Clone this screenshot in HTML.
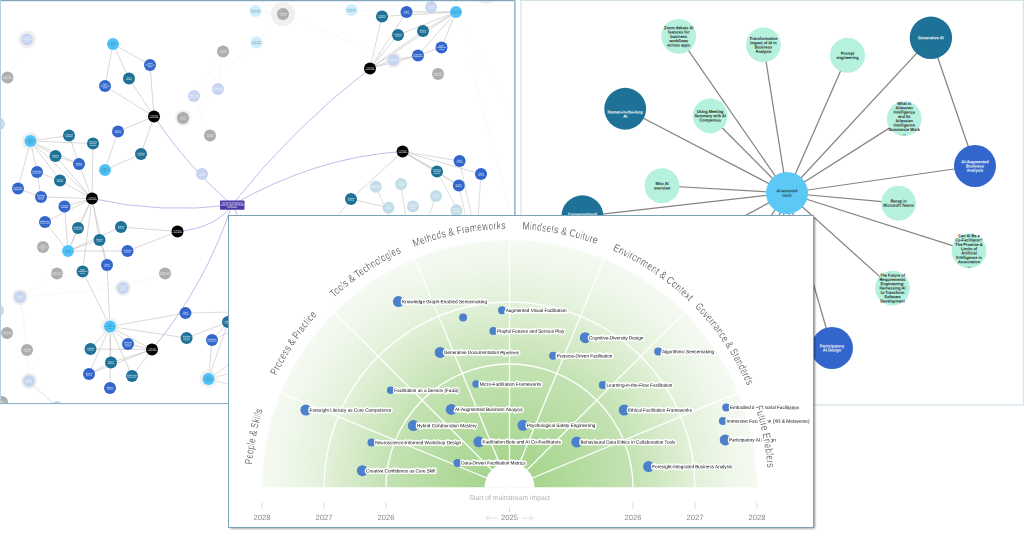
<!DOCTYPE html><html><head><meta charset="utf-8"><style>html,body{margin:0;padding:0;background:#fff;}body{width:1024px;height:533px;overflow:hidden;font-family:"Liberation Sans",sans-serif;}svg{display:block;position:absolute;left:0;top:0;}text{font-family:"Liberation Sans",sans-serif;text-rendering:geometricPrecision;}</style></head><body>
<svg width="1024" height="533" viewBox="0 0 1024 533">
<defs>
<clipPath id="cl"><rect x="0.5" y="0.5" width="514.4" height="402.8"/></clipPath>
<clipPath id="cr"><rect x="522" y="1" width="500.8" height="403"/></clipPath>
<clipPath id="cc"><rect x="229" y="216" width="584" height="311"/></clipPath>
<radialGradient id="rg" gradientUnits="userSpaceOnUse" cx="509.5" cy="487.5" r="247.5">
<stop offset="0" stop-color="#a6d58e"/><stop offset="0.12" stop-color="#a8d690"/><stop offset="0.5" stop-color="#c4e2b3"/><stop offset="0.75" stop-color="#e2f1d9"/><stop offset="0.9" stop-color="#eff7ea"/><stop offset="1" stop-color="#f5faf2"/>
</radialGradient>
<filter id="sh" x="-5%" y="-5%" width="112%" height="115%"><feGaussianBlur stdDeviation="0.9"/></filter>
</defs>
<rect width="1024" height="533" fill="#fff"/>
<g clip-path="url(#cl)">
<line x1="27" y1="39.5" x2="7.5" y2="77.5" stroke="#e8e8e8" stroke-width="0.6" stroke-dasharray="1.2 1.2"/>
<line x1="223" y1="51.5" x2="218" y2="89" stroke="#e8e8e8" stroke-width="0.6" stroke-dasharray="1.2 1.2"/>
<line x1="223" y1="51.5" x2="194" y2="96" stroke="#e8e8e8" stroke-width="0.6" stroke-dasharray="1.2 1.2"/>
<line x1="194" y1="96" x2="210" y2="135.5" stroke="#e8e8e8" stroke-width="0.6" stroke-dasharray="1.2 1.2"/>
<line x1="283" y1="14" x2="256.5" y2="42.5" stroke="#e8e8e8" stroke-width="0.6" stroke-dasharray="1.2 1.2"/>
<line x1="283" y1="14" x2="255.5" y2="11" stroke="#e8e8e8" stroke-width="0.6" stroke-dasharray="1.2 1.2"/>
<line x1="183" y1="118" x2="218" y2="89" stroke="#e8e8e8" stroke-width="0.6" stroke-dasharray="1.2 1.2"/>
<line x1="123" y1="288" x2="165" y2="273.5" stroke="#e8e8e8" stroke-width="0.6" stroke-dasharray="1.2 1.2"/>
<line x1="123" y1="288" x2="20" y2="297" stroke="#e8e8e8" stroke-width="0.6" stroke-dasharray="1.2 1.2"/>
<line x1="20" y1="297" x2="57" y2="273.5" stroke="#e8e8e8" stroke-width="0.6" stroke-dasharray="1.2 1.2"/>
<line x1="27" y1="350" x2="29" y2="381" stroke="#e8e8e8" stroke-width="0.6" stroke-dasharray="1.2 1.2"/>
<line x1="20" y1="297" x2="27" y2="350" stroke="#e8e8e8" stroke-width="0.6" stroke-dasharray="1.2 1.2"/>
<line x1="57" y1="273.5" x2="123" y2="288" stroke="#e8e8e8" stroke-width="0.6" stroke-dasharray="1.2 1.2"/>
<line x1="351.5" y1="10" x2="456" y2="12" stroke="#e8e8e8" stroke-width="0.6" stroke-dasharray="1.2 1.2"/>
<line x1="283" y1="14" x2="393.5" y2="60" stroke="#e8e8e8" stroke-width="0.6" stroke-dasharray="1.2 1.2"/>
<line x1="256.5" y1="42.5" x2="194" y2="96" stroke="#e8e8e8" stroke-width="0.6" stroke-dasharray="1.2 1.2"/>
<line x1="185.5" y1="313" x2="235" y2="312" stroke="#c9c9c9" stroke-width="0.6"/>
<line x1="208.5" y1="379" x2="235" y2="372" stroke="#c9c9c9" stroke-width="0.6"/>
<line x1="208.5" y1="379" x2="235" y2="386" stroke="#c9c9c9" stroke-width="0.6"/>
<line x1="208.5" y1="379" x2="235" y2="360" stroke="#c9c9c9" stroke-width="0.6"/>
<line x1="212" y1="340" x2="235" y2="330" stroke="#c9c9c9" stroke-width="0.6"/>
<line x1="437" y1="171.5" x2="462" y2="218" stroke="#c9c9c9" stroke-width="0.6"/>
<line x1="459.6" y1="161" x2="472" y2="218" stroke="#c9c9c9" stroke-width="0.6"/>
<line x1="481" y1="174" x2="478" y2="218" stroke="#c9c9c9" stroke-width="0.6"/>
<line x1="458.8" y1="185.6" x2="466" y2="218" stroke="#c9c9c9" stroke-width="0.6"/>
<line x1="351" y1="199" x2="336" y2="218" stroke="#c9c9c9" stroke-width="0.6"/>
<line x1="375.8" y1="186.7" x2="390" y2="218" stroke="#c9c9c9" stroke-width="0.6"/>
<line x1="401" y1="184" x2="406" y2="218" stroke="#c9c9c9" stroke-width="0.6"/>
<line x1="436" y1="196" x2="428" y2="218" stroke="#c9c9c9" stroke-width="0.6"/>
<line x1="402.6" y1="151.5" x2="438" y2="171" stroke="#c9c9c9" stroke-width="0.6"/>
<line x1="29" y1="381" x2="60" y2="410" stroke="#c9c9c9" stroke-width="0.6"/>
<line x1="20" y1="297" x2="40" y2="410" stroke="#ededed" stroke-width="0.6" stroke-dasharray="1.2 1.2"/>
<line x1="470" y1="60" x2="515" y2="230" stroke="#ededed" stroke-width="0.6" stroke-dasharray="1.2 1.2"/>
<line x1="456" y1="12" x2="515" y2="120" stroke="#ededed" stroke-width="0.6" stroke-dasharray="1.2 1.2"/>
<line x1="113" y1="44" x2="150" y2="65" stroke="#bdbdbd" stroke-width="0.6"/>
<line x1="113" y1="44" x2="129" y2="78.5" stroke="#bdbdbd" stroke-width="0.6"/>
<line x1="113" y1="44" x2="105" y2="86" stroke="#bdbdbd" stroke-width="0.6"/>
<line x1="150" y1="65" x2="154" y2="116.5" stroke="#bdbdbd" stroke-width="0.6"/>
<line x1="129" y1="78.5" x2="154" y2="116.5" stroke="#bdbdbd" stroke-width="0.6"/>
<line x1="105" y1="86" x2="154" y2="116.5" stroke="#bdbdbd" stroke-width="0.6"/>
<line x1="154" y1="116.5" x2="118" y2="131.5" stroke="#bdbdbd" stroke-width="0.6"/>
<line x1="154" y1="116.5" x2="141" y2="154" stroke="#bdbdbd" stroke-width="0.6"/>
<line x1="118" y1="131.5" x2="105" y2="170" stroke="#bdbdbd" stroke-width="0.6"/>
<line x1="141" y1="154" x2="105" y2="170" stroke="#bdbdbd" stroke-width="0.6"/>
<line x1="30.5" y1="141" x2="69" y2="135.5" stroke="#bdbdbd" stroke-width="0.6"/>
<line x1="30.5" y1="141" x2="93" y2="143.5" stroke="#bdbdbd" stroke-width="0.6"/>
<line x1="30.5" y1="141" x2="55.5" y2="156" stroke="#bdbdbd" stroke-width="0.6"/>
<line x1="30.5" y1="141" x2="79" y2="164" stroke="#bdbdbd" stroke-width="0.6"/>
<line x1="30.5" y1="141" x2="37" y2="172" stroke="#bdbdbd" stroke-width="0.6"/>
<line x1="30.5" y1="141" x2="60" y2="180.5" stroke="#bdbdbd" stroke-width="0.6"/>
<line x1="30.5" y1="141" x2="18" y2="188.5" stroke="#bdbdbd" stroke-width="0.6"/>
<line x1="30.5" y1="141" x2="92" y2="198.5" stroke="#bdbdbd" stroke-width="0.6"/>
<line x1="69" y1="135.5" x2="79" y2="164" stroke="#bdbdbd" stroke-width="0.6"/>
<line x1="93" y1="143.5" x2="92" y2="198.5" stroke="#bdbdbd" stroke-width="0.6"/>
<line x1="79" y1="164" x2="92" y2="198.5" stroke="#bdbdbd" stroke-width="0.6"/>
<line x1="55.5" y1="156" x2="92" y2="198.5" stroke="#bdbdbd" stroke-width="0.6"/>
<line x1="60" y1="180.5" x2="92" y2="198.5" stroke="#bdbdbd" stroke-width="0.6"/>
<line x1="41" y1="197" x2="92" y2="198.5" stroke="#bdbdbd" stroke-width="0.6"/>
<line x1="64.5" y1="206.5" x2="92" y2="198.5" stroke="#bdbdbd" stroke-width="0.6"/>
<line x1="45" y1="222" x2="92" y2="198.5" stroke="#bdbdbd" stroke-width="0.6"/>
<line x1="78" y1="228" x2="92" y2="198.5" stroke="#bdbdbd" stroke-width="0.6"/>
<line x1="99.5" y1="240" x2="92" y2="198.5" stroke="#bdbdbd" stroke-width="0.6"/>
<line x1="68" y1="251" x2="92" y2="198.5" stroke="#bdbdbd" stroke-width="0.6"/>
<line x1="18" y1="188.5" x2="41" y2="197" stroke="#bdbdbd" stroke-width="0.6"/>
<line x1="37" y1="172" x2="41" y2="197" stroke="#bdbdbd" stroke-width="0.6"/>
<line x1="37" y1="172" x2="60" y2="180.5" stroke="#bdbdbd" stroke-width="0.6"/>
<line x1="68" y1="251" x2="45" y2="222" stroke="#bdbdbd" stroke-width="0.6"/>
<line x1="68" y1="251" x2="78" y2="228" stroke="#bdbdbd" stroke-width="0.6"/>
<line x1="68" y1="251" x2="99.5" y2="240" stroke="#bdbdbd" stroke-width="0.6"/>
<line x1="68" y1="251" x2="127.5" y2="251" stroke="#bdbdbd" stroke-width="0.6"/>
<line x1="68" y1="251" x2="121" y2="227" stroke="#bdbdbd" stroke-width="0.6"/>
<line x1="177.5" y1="231.5" x2="121" y2="227" stroke="#bdbdbd" stroke-width="0.6"/>
<line x1="177.5" y1="231.5" x2="127.5" y2="251" stroke="#bdbdbd" stroke-width="0.6"/>
<line x1="99.5" y1="240" x2="107" y2="265" stroke="#bdbdbd" stroke-width="0.6"/>
<line x1="92" y1="198.5" x2="82.6" y2="271.4" stroke="#bdbdbd" stroke-width="0.6"/>
<line x1="92" y1="198.5" x2="107" y2="265" stroke="#bdbdbd" stroke-width="0.6"/>
<line x1="64.5" y1="206.5" x2="68" y2="251" stroke="#bdbdbd" stroke-width="0.6"/>
<line x1="55.5" y1="156" x2="79" y2="164" stroke="#bdbdbd" stroke-width="0.6"/>
<line x1="82.6" y1="271.4" x2="110" y2="326.5" stroke="#bdbdbd" stroke-width="0.6"/>
<line x1="107" y1="265" x2="110" y2="326.5" stroke="#bdbdbd" stroke-width="0.6"/>
<line x1="110" y1="326.5" x2="185.5" y2="313" stroke="#bdbdbd" stroke-width="0.6"/>
<line x1="110" y1="326.5" x2="186.6" y2="338" stroke="#bdbdbd" stroke-width="0.6"/>
<line x1="110" y1="326.5" x2="128" y2="344" stroke="#bdbdbd" stroke-width="0.6"/>
<line x1="110" y1="326.5" x2="90.5" y2="349" stroke="#bdbdbd" stroke-width="0.6"/>
<line x1="110" y1="326.5" x2="152" y2="349.5" stroke="#bdbdbd" stroke-width="0.6"/>
<line x1="110" y1="326.5" x2="111" y2="362.5" stroke="#bdbdbd" stroke-width="0.6"/>
<line x1="110" y1="326.5" x2="89" y2="374" stroke="#bdbdbd" stroke-width="0.6"/>
<line x1="110" y1="326.5" x2="132" y2="376" stroke="#bdbdbd" stroke-width="0.6"/>
<line x1="110" y1="326.5" x2="110" y2="388" stroke="#bdbdbd" stroke-width="0.6"/>
<line x1="152" y1="349.5" x2="128" y2="344" stroke="#bdbdbd" stroke-width="0.6"/>
<line x1="152" y1="349.5" x2="90.5" y2="349" stroke="#bdbdbd" stroke-width="0.6"/>
<line x1="152" y1="349.5" x2="111" y2="362.5" stroke="#bdbdbd" stroke-width="0.6"/>
<line x1="152" y1="349.5" x2="132" y2="376" stroke="#bdbdbd" stroke-width="0.6"/>
<line x1="152" y1="349.5" x2="89" y2="374" stroke="#bdbdbd" stroke-width="0.6"/>
<line x1="111" y1="362.5" x2="89" y2="374" stroke="#bdbdbd" stroke-width="0.6"/>
<line x1="186.6" y1="338" x2="228" y2="322" stroke="#bdbdbd" stroke-width="0.6"/>
<line x1="208.5" y1="379" x2="212" y2="340" stroke="#bdbdbd" stroke-width="0.6"/>
<line x1="208.5" y1="379" x2="228" y2="322" stroke="#bdbdbd" stroke-width="0.6"/>
<line x1="212" y1="340" x2="228" y2="322" stroke="#bdbdbd" stroke-width="0.6"/>
<line x1="370" y1="68.5" x2="382" y2="16.5" stroke="#bdbdbd" stroke-width="0.6"/>
<line x1="370" y1="68.5" x2="406.5" y2="12" stroke="#bdbdbd" stroke-width="0.6"/>
<line x1="370" y1="68.5" x2="398" y2="35" stroke="#bdbdbd" stroke-width="0.6"/>
<line x1="370" y1="68.5" x2="423" y2="31" stroke="#bdbdbd" stroke-width="0.6"/>
<line x1="370" y1="68.5" x2="456" y2="12" stroke="#bdbdbd" stroke-width="0.6"/>
<line x1="370" y1="68.5" x2="418" y2="55.5" stroke="#bdbdbd" stroke-width="0.6"/>
<line x1="370" y1="68.5" x2="393.5" y2="60" stroke="#bdbdbd" stroke-width="0.6"/>
<line x1="456" y1="12" x2="382" y2="16.5" stroke="#bdbdbd" stroke-width="0.6"/>
<line x1="456" y1="12" x2="406.5" y2="12" stroke="#bdbdbd" stroke-width="0.6"/>
<line x1="456" y1="12" x2="398" y2="35" stroke="#bdbdbd" stroke-width="0.6"/>
<line x1="456" y1="12" x2="423" y2="31" stroke="#bdbdbd" stroke-width="0.6"/>
<line x1="456" y1="12" x2="441.5" y2="47.5" stroke="#bdbdbd" stroke-width="0.6"/>
<line x1="456" y1="12" x2="418" y2="55.5" stroke="#bdbdbd" stroke-width="0.6"/>
<line x1="441.5" y1="47.5" x2="418" y2="55.5" stroke="#bdbdbd" stroke-width="0.6"/>
<line x1="393.5" y1="60" x2="418" y2="55.5" stroke="#bdbdbd" stroke-width="0.6"/>
<line x1="402.6" y1="151.5" x2="459.6" y2="161" stroke="#bdbdbd" stroke-width="0.6"/>
<line x1="402.6" y1="151.5" x2="437" y2="171.5" stroke="#bdbdbd" stroke-width="0.6"/>
<line x1="402.6" y1="151.5" x2="481" y2="174" stroke="#bdbdbd" stroke-width="0.6"/>
<line x1="402.6" y1="151.5" x2="458.8" y2="185.6" stroke="#bdbdbd" stroke-width="0.6"/>
<line x1="402.6" y1="151.5" x2="351" y2="199" stroke="#bdbdbd" stroke-width="0.6"/>
<line x1="437" y1="171.5" x2="458.8" y2="185.6" stroke="#bdbdbd" stroke-width="0.6"/>
<line x1="351" y1="199" x2="388.6" y2="207.7" stroke="#bdbdbd" stroke-width="0.6"/>
<path d="M232 205 Q160 214 92 198.5" fill="none" stroke="#a096e0" stroke-width="0.65"/>
<path d="M232 205 Q187 166 154 116.5" fill="none" stroke="#a096e0" stroke-width="0.65"/>
<path d="M232 205 Q216 228 177.5 231.5" fill="none" stroke="#a096e0" stroke-width="0.65"/>
<path d="M232 205 Q205 286 152 349.5" fill="none" stroke="#a096e0" stroke-width="0.65"/>
<path d="M232 205 Q294 126.7 370 68.5" fill="none" stroke="#a096e0" stroke-width="0.65"/>
<path d="M232 205 Q316 157 402.6 151.5" fill="none" stroke="#a096e0" stroke-width="0.65"/>
<path d="M234 208 Q240 222 252 245" fill="none" stroke="#a096e0" stroke-width="0.65"/>
<circle cx="30.5" cy="141" r="9" fill="#ececec" opacity="0.8"/>
<circle cx="110" cy="326.5" r="9" fill="#ececec" opacity="0.8"/>
<circle cx="208.5" cy="379" r="9" fill="#ececec" opacity="0.8"/>
<circle cx="393.5" cy="60" r="8" fill="#ececec" opacity="0.8"/>
<circle cx="27" cy="39.5" r="9" fill="#ececec" opacity="0.8"/>
<circle cx="183" cy="118" r="8" fill="#ececec" opacity="0.8"/>
<circle cx="283" cy="14" r="12" fill="#ececec" opacity="0.8"/>
<circle cx="123" cy="288" r="8" fill="#ececec" opacity="0.8"/>
<circle cx="20" cy="297" r="8" fill="#ececec" opacity="0.8"/>
<circle cx="29" cy="381" r="8" fill="#ececec" opacity="0.8"/>
<circle cx="486" cy="-7" r="11" fill="#ececec" opacity="0.8"/>
<circle cx="113" cy="44" r="6" fill="#4fc3f7"/>
<text x="113" y="42.85" transform="rotate(0.03 113 44)" font-size="1.6" font-weight="700" text-anchor="middle" fill="#2b6f8f" opacity="0.75">Digital</text>
<text x="113" y="44.55" transform="rotate(0.03 113 44)" font-size="1.6" font-weight="700" text-anchor="middle" fill="#2b6f8f" opacity="0.75">whiteboards</text>
<text x="113" y="46.25" transform="rotate(0.03 113 44)" font-size="1.6" font-weight="700" text-anchor="middle" fill="#2b6f8f" opacity="0.75">online</text>
<circle cx="150" cy="65" r="6" fill="#3366cc"/>
<text x="150" y="63.85" transform="rotate(0.03 150 65)" font-size="1.6" font-weight="700" text-anchor="middle" fill="#ffffff" opacity="0.8999999999999999">Digital</text>
<text x="150" y="65.55" transform="rotate(0.03 150 65)" font-size="1.6" font-weight="700" text-anchor="middle" fill="#ffffff" opacity="0.8999999999999999">whiteboards</text>
<text x="150" y="67.25" transform="rotate(0.03 150 65)" font-size="1.6" font-weight="700" text-anchor="middle" fill="#ffffff" opacity="0.8999999999999999">online</text>
<circle cx="129" cy="78.5" r="6" fill="#1f7297"/>
<text x="129" y="78.20" transform="rotate(0.03 129 78.5)" font-size="1.6" font-weight="700" text-anchor="middle" fill="#ffffff" opacity="0.8999999999999999">Visual</text>
<text x="129" y="79.90" transform="rotate(0.03 129 78.5)" font-size="1.6" font-weight="700" text-anchor="middle" fill="#ffffff" opacity="0.8999999999999999">thinking</text>
<circle cx="105" cy="86" r="6" fill="#3366cc"/>
<text x="105" y="84.85" transform="rotate(0.03 105 86)" font-size="1.6" font-weight="700" text-anchor="middle" fill="#ffffff" opacity="0.8999999999999999">Digital</text>
<text x="105" y="86.55" transform="rotate(0.03 105 86)" font-size="1.6" font-weight="700" text-anchor="middle" fill="#ffffff" opacity="0.8999999999999999">whiteboards</text>
<text x="105" y="88.25" transform="rotate(0.03 105 86)" font-size="1.6" font-weight="700" text-anchor="middle" fill="#ffffff" opacity="0.8999999999999999">online</text>
<circle cx="154" cy="116.5" r="6" fill="#000000"/>
<text x="154" y="116.20" transform="rotate(0.03 154 116.5)" font-size="1.6" font-weight="700" text-anchor="middle" fill="#ffffff" opacity="0.8999999999999999">Facilitation</text>
<text x="154" y="117.90" transform="rotate(0.03 154 116.5)" font-size="1.6" font-weight="700" text-anchor="middle" fill="#ffffff" opacity="0.8999999999999999">Future Skills</text>
<circle cx="118" cy="131.5" r="6" fill="#3366cc"/>
<text x="118" y="131.20" transform="rotate(0.03 118 131.5)" font-size="1.6" font-weight="700" text-anchor="middle" fill="#ffffff" opacity="0.8999999999999999">Systems</text>
<text x="118" y="132.90" transform="rotate(0.03 118 131.5)" font-size="1.6" font-weight="700" text-anchor="middle" fill="#ffffff" opacity="0.8999999999999999">thinking</text>
<circle cx="141" cy="154" r="6" fill="#1f7297"/>
<text x="141" y="153.70" transform="rotate(0.03 141 154)" font-size="1.6" font-weight="700" text-anchor="middle" fill="#ffffff" opacity="0.8999999999999999">Facilitation</text>
<text x="141" y="155.40" transform="rotate(0.03 141 154)" font-size="1.6" font-weight="700" text-anchor="middle" fill="#ffffff" opacity="0.8999999999999999">methods</text>
<circle cx="105" cy="170" r="6" fill="#4fc3f7"/>
<text x="105" y="168.85" transform="rotate(0.03 105 170)" font-size="1.6" font-weight="700" text-anchor="middle" fill="#2b6f8f" opacity="0.75">Digital</text>
<text x="105" y="170.55" transform="rotate(0.03 105 170)" font-size="1.6" font-weight="700" text-anchor="middle" fill="#2b6f8f" opacity="0.75">whiteboards</text>
<text x="105" y="172.25" transform="rotate(0.03 105 170)" font-size="1.6" font-weight="700" text-anchor="middle" fill="#2b6f8f" opacity="0.75">online</text>
<circle cx="30.5" cy="141" r="6" fill="#4fc3f7"/>
<text x="30.5" y="139.85" transform="rotate(0.03 30.5 141)" font-size="1.6" font-weight="700" text-anchor="middle" fill="#2b6f8f" opacity="0.75">Digital</text>
<text x="30.5" y="141.55" transform="rotate(0.03 30.5 141)" font-size="1.6" font-weight="700" text-anchor="middle" fill="#2b6f8f" opacity="0.75">whiteboards</text>
<text x="30.5" y="143.25" transform="rotate(0.03 30.5 141)" font-size="1.6" font-weight="700" text-anchor="middle" fill="#2b6f8f" opacity="0.75">online</text>
<circle cx="69" cy="135.5" r="6" fill="#1f7297"/>
<text x="69" y="135.20" transform="rotate(0.03 69 135.5)" font-size="1.6" font-weight="700" text-anchor="middle" fill="#ffffff" opacity="0.8999999999999999">Facilitation</text>
<text x="69" y="136.90" transform="rotate(0.03 69 135.5)" font-size="1.6" font-weight="700" text-anchor="middle" fill="#ffffff" opacity="0.8999999999999999">methods</text>
<circle cx="93" cy="143.5" r="6" fill="#1f7297"/>
<text x="93" y="142.35" transform="rotate(0.03 93 143.5)" font-size="1.6" font-weight="700" text-anchor="middle" fill="#ffffff" opacity="0.8999999999999999">Workshop</text>
<text x="93" y="144.05" transform="rotate(0.03 93 143.5)" font-size="1.6" font-weight="700" text-anchor="middle" fill="#ffffff" opacity="0.8999999999999999">planning</text>
<text x="93" y="145.75" transform="rotate(0.03 93 143.5)" font-size="1.6" font-weight="700" text-anchor="middle" fill="#ffffff" opacity="0.8999999999999999">practice</text>
<circle cx="55.5" cy="156" r="6" fill="#1f7297"/>
<text x="55.5" y="155.70" transform="rotate(0.03 55.5 156)" font-size="1.6" font-weight="700" text-anchor="middle" fill="#ffffff" opacity="0.8999999999999999">Systems</text>
<text x="55.5" y="157.40" transform="rotate(0.03 55.5 156)" font-size="1.6" font-weight="700" text-anchor="middle" fill="#ffffff" opacity="0.8999999999999999">thinking</text>
<circle cx="79" cy="164" r="6" fill="#3366cc"/>
<text x="79" y="163.70" transform="rotate(0.03 79 164)" font-size="1.6" font-weight="700" text-anchor="middle" fill="#ffffff" opacity="0.8999999999999999">Systems</text>
<text x="79" y="165.40" transform="rotate(0.03 79 164)" font-size="1.6" font-weight="700" text-anchor="middle" fill="#ffffff" opacity="0.8999999999999999">thinking</text>
<circle cx="37" cy="172" r="6" fill="#3366cc"/>
<text x="37" y="171.70" transform="rotate(0.03 37 172)" font-size="1.6" font-weight="700" text-anchor="middle" fill="#ffffff" opacity="0.8999999999999999">Stakeholder</text>
<text x="37" y="173.40" transform="rotate(0.03 37 172)" font-size="1.6" font-weight="700" text-anchor="middle" fill="#ffffff" opacity="0.8999999999999999">engagement</text>
<circle cx="60" cy="180.5" r="6" fill="#1f7297"/>
<text x="60" y="180.20" transform="rotate(0.03 60 180.5)" font-size="1.6" font-weight="700" text-anchor="middle" fill="#ffffff" opacity="0.8999999999999999">Systems</text>
<text x="60" y="181.90" transform="rotate(0.03 60 180.5)" font-size="1.6" font-weight="700" text-anchor="middle" fill="#ffffff" opacity="0.8999999999999999">thinking</text>
<circle cx="18" cy="188.5" r="6" fill="#3366cc"/>
<text x="18" y="188.20" transform="rotate(0.03 18 188.5)" font-size="1.6" font-weight="700" text-anchor="middle" fill="#ffffff" opacity="0.8999999999999999">Stakeholder</text>
<text x="18" y="189.90" transform="rotate(0.03 18 188.5)" font-size="1.6" font-weight="700" text-anchor="middle" fill="#ffffff" opacity="0.8999999999999999">engagement</text>
<circle cx="41" cy="197" r="6" fill="#3366cc"/>
<text x="41" y="195.85" transform="rotate(0.03 41 197)" font-size="1.6" font-weight="700" text-anchor="middle" fill="#ffffff" opacity="0.8999999999999999">Workshop</text>
<text x="41" y="197.55" transform="rotate(0.03 41 197)" font-size="1.6" font-weight="700" text-anchor="middle" fill="#ffffff" opacity="0.8999999999999999">planning</text>
<text x="41" y="199.25" transform="rotate(0.03 41 197)" font-size="1.6" font-weight="700" text-anchor="middle" fill="#ffffff" opacity="0.8999999999999999">practice</text>
<circle cx="92" cy="198.5" r="6" fill="#000000"/>
<text x="92" y="198.20" transform="rotate(0.03 92 198.5)" font-size="1.6" font-weight="700" text-anchor="middle" fill="#ffffff" opacity="0.8999999999999999">Facilitation</text>
<text x="92" y="199.90" transform="rotate(0.03 92 198.5)" font-size="1.6" font-weight="700" text-anchor="middle" fill="#ffffff" opacity="0.8999999999999999">Future Skills</text>
<circle cx="64.5" cy="206.5" r="6" fill="#3366cc"/>
<text x="64.5" y="206.20" transform="rotate(0.03 64.5 206.5)" font-size="1.6" font-weight="700" text-anchor="middle" fill="#ffffff" opacity="0.8999999999999999">Facilitation</text>
<text x="64.5" y="207.90" transform="rotate(0.03 64.5 206.5)" font-size="1.6" font-weight="700" text-anchor="middle" fill="#ffffff" opacity="0.8999999999999999">methods</text>
<circle cx="45" cy="222" r="6" fill="#3366cc"/>
<text x="45" y="221.70" transform="rotate(0.03 45 222)" font-size="1.6" font-weight="700" text-anchor="middle" fill="#ffffff" opacity="0.8999999999999999">Collaborative</text>
<text x="45" y="223.40" transform="rotate(0.03 45 222)" font-size="1.6" font-weight="700" text-anchor="middle" fill="#ffffff" opacity="0.8999999999999999">design tools</text>
<circle cx="78" cy="228" r="6" fill="#1f7297"/>
<text x="78" y="227.70" transform="rotate(0.03 78 228)" font-size="1.6" font-weight="700" text-anchor="middle" fill="#ffffff" opacity="0.8999999999999999">Stakeholder</text>
<text x="78" y="229.40" transform="rotate(0.03 78 228)" font-size="1.6" font-weight="700" text-anchor="middle" fill="#ffffff" opacity="0.8999999999999999">engagement</text>
<circle cx="121" cy="227" r="6" fill="#1f7297"/>
<text x="121" y="226.70" transform="rotate(0.03 121 227)" font-size="1.6" font-weight="700" text-anchor="middle" fill="#ffffff" opacity="0.8999999999999999">Systems</text>
<text x="121" y="228.40" transform="rotate(0.03 121 227)" font-size="1.6" font-weight="700" text-anchor="middle" fill="#ffffff" opacity="0.8999999999999999">thinking</text>
<circle cx="99.5" cy="240" r="6" fill="#1f7297"/>
<text x="99.5" y="239.70" transform="rotate(0.03 99.5 240)" font-size="1.6" font-weight="700" text-anchor="middle" fill="#ffffff" opacity="0.8999999999999999">Systems</text>
<text x="99.5" y="241.40" transform="rotate(0.03 99.5 240)" font-size="1.6" font-weight="700" text-anchor="middle" fill="#ffffff" opacity="0.8999999999999999">thinking</text>
<circle cx="177.5" cy="231.5" r="6" fill="#000000"/>
<text x="177.5" y="231.20" transform="rotate(0.03 177.5 231.5)" font-size="1.6" font-weight="700" text-anchor="middle" fill="#ffffff" opacity="0.8999999999999999">Facilitation</text>
<text x="177.5" y="232.90" transform="rotate(0.03 177.5 231.5)" font-size="1.6" font-weight="700" text-anchor="middle" fill="#ffffff" opacity="0.8999999999999999">Future Skills</text>
<circle cx="43" cy="247" r="6" fill="#adadad"/>
<text x="43" y="245.85" transform="rotate(0.03 43 247)" font-size="1.6" font-weight="700" text-anchor="middle" fill="#ffffff" opacity="0.75">Digital</text>
<text x="43" y="247.55" transform="rotate(0.03 43 247)" font-size="1.6" font-weight="700" text-anchor="middle" fill="#ffffff" opacity="0.75">whiteboards</text>
<text x="43" y="249.25" transform="rotate(0.03 43 247)" font-size="1.6" font-weight="700" text-anchor="middle" fill="#ffffff" opacity="0.75">online</text>
<circle cx="68" cy="251" r="6" fill="#4fc3f7"/>
<text x="68" y="250.70" transform="rotate(0.03 68 251)" font-size="1.6" font-weight="700" text-anchor="middle" fill="#2b6f8f" opacity="0.75">Visual</text>
<text x="68" y="252.40" transform="rotate(0.03 68 251)" font-size="1.6" font-weight="700" text-anchor="middle" fill="#2b6f8f" opacity="0.75">thinking</text>
<circle cx="127.5" cy="251" r="6" fill="#3366cc"/>
<text x="127.5" y="250.70" transform="rotate(0.03 127.5 251)" font-size="1.6" font-weight="700" text-anchor="middle" fill="#ffffff" opacity="0.8999999999999999">Facilitation</text>
<text x="127.5" y="252.40" transform="rotate(0.03 127.5 251)" font-size="1.6" font-weight="700" text-anchor="middle" fill="#ffffff" opacity="0.8999999999999999">methods</text>
<circle cx="107" cy="265" r="6" fill="#3366cc"/>
<text x="107" y="264.70" transform="rotate(0.03 107 265)" font-size="1.6" font-weight="700" text-anchor="middle" fill="#ffffff" opacity="0.8999999999999999">Visual</text>
<text x="107" y="266.40" transform="rotate(0.03 107 265)" font-size="1.6" font-weight="700" text-anchor="middle" fill="#ffffff" opacity="0.8999999999999999">thinking</text>
<circle cx="82.6" cy="271.4" r="6" fill="#1f7297"/>
<text x="82.6" y="270.25" transform="rotate(0.03 82.6 271.4)" font-size="1.6" font-weight="700" text-anchor="middle" fill="#ffffff" opacity="0.8999999999999999">Digital</text>
<text x="82.6" y="271.95" transform="rotate(0.03 82.6 271.4)" font-size="1.6" font-weight="700" text-anchor="middle" fill="#ffffff" opacity="0.8999999999999999">whiteboards</text>
<text x="82.6" y="273.65" transform="rotate(0.03 82.6 271.4)" font-size="1.6" font-weight="700" text-anchor="middle" fill="#ffffff" opacity="0.8999999999999999">online</text>
<circle cx="110" cy="326.5" r="6" fill="#4fc3f7"/>
<text x="110" y="325.35" transform="rotate(0.03 110 326.5)" font-size="1.6" font-weight="700" text-anchor="middle" fill="#2b6f8f" opacity="0.75">Digital</text>
<text x="110" y="327.05" transform="rotate(0.03 110 326.5)" font-size="1.6" font-weight="700" text-anchor="middle" fill="#2b6f8f" opacity="0.75">whiteboards</text>
<text x="110" y="328.75" transform="rotate(0.03 110 326.5)" font-size="1.6" font-weight="700" text-anchor="middle" fill="#2b6f8f" opacity="0.75">online</text>
<circle cx="185.5" cy="313" r="6" fill="#3366cc"/>
<text x="185.5" y="312.70" transform="rotate(0.03 185.5 313)" font-size="1.6" font-weight="700" text-anchor="middle" fill="#ffffff" opacity="0.8999999999999999">Visual</text>
<text x="185.5" y="314.40" transform="rotate(0.03 185.5 313)" font-size="1.6" font-weight="700" text-anchor="middle" fill="#ffffff" opacity="0.8999999999999999">thinking</text>
<circle cx="228" cy="322" r="6" fill="#1f7297"/>
<text x="228" y="321.70" transform="rotate(0.03 228 322)" font-size="1.6" font-weight="700" text-anchor="middle" fill="#ffffff" opacity="0.8999999999999999">Facilitation</text>
<text x="228" y="323.40" transform="rotate(0.03 228 322)" font-size="1.6" font-weight="700" text-anchor="middle" fill="#ffffff" opacity="0.8999999999999999">methods</text>
<circle cx="186.6" cy="338" r="6" fill="#1f7297"/>
<text x="186.6" y="336.85" transform="rotate(0.03 186.6 338)" font-size="1.6" font-weight="700" text-anchor="middle" fill="#ffffff" opacity="0.8999999999999999">Workshop</text>
<text x="186.6" y="338.55" transform="rotate(0.03 186.6 338)" font-size="1.6" font-weight="700" text-anchor="middle" fill="#ffffff" opacity="0.8999999999999999">planning</text>
<text x="186.6" y="340.25" transform="rotate(0.03 186.6 338)" font-size="1.6" font-weight="700" text-anchor="middle" fill="#ffffff" opacity="0.8999999999999999">practice</text>
<circle cx="212" cy="340" r="6" fill="#3366cc"/>
<text x="212" y="339.70" transform="rotate(0.03 212 340)" font-size="1.6" font-weight="700" text-anchor="middle" fill="#ffffff" opacity="0.8999999999999999">Stakeholder</text>
<text x="212" y="341.40" transform="rotate(0.03 212 340)" font-size="1.6" font-weight="700" text-anchor="middle" fill="#ffffff" opacity="0.8999999999999999">engagement</text>
<circle cx="128" cy="344" r="6" fill="#3366cc"/>
<text x="128" y="342.85" transform="rotate(0.03 128 344)" font-size="1.6" font-weight="700" text-anchor="middle" fill="#ffffff" opacity="0.8999999999999999">Workshop</text>
<text x="128" y="344.55" transform="rotate(0.03 128 344)" font-size="1.6" font-weight="700" text-anchor="middle" fill="#ffffff" opacity="0.8999999999999999">planning</text>
<text x="128" y="346.25" transform="rotate(0.03 128 344)" font-size="1.6" font-weight="700" text-anchor="middle" fill="#ffffff" opacity="0.8999999999999999">practice</text>
<circle cx="90.5" cy="349" r="6" fill="#1f7297"/>
<text x="90.5" y="348.70" transform="rotate(0.03 90.5 349)" font-size="1.6" font-weight="700" text-anchor="middle" fill="#ffffff" opacity="0.8999999999999999">Facilitation</text>
<text x="90.5" y="350.40" transform="rotate(0.03 90.5 349)" font-size="1.6" font-weight="700" text-anchor="middle" fill="#ffffff" opacity="0.8999999999999999">methods</text>
<circle cx="152" cy="349.5" r="6" fill="#000000"/>
<text x="152" y="349.20" transform="rotate(0.03 152 349.5)" font-size="1.6" font-weight="700" text-anchor="middle" fill="#ffffff" opacity="0.8999999999999999">Facilitation</text>
<text x="152" y="350.90" transform="rotate(0.03 152 349.5)" font-size="1.6" font-weight="700" text-anchor="middle" fill="#ffffff" opacity="0.8999999999999999">Future Skills</text>
<circle cx="111" cy="362.5" r="6" fill="#1f7297"/>
<text x="111" y="362.20" transform="rotate(0.03 111 362.5)" font-size="1.6" font-weight="700" text-anchor="middle" fill="#ffffff" opacity="0.8999999999999999">Systems</text>
<text x="111" y="363.90" transform="rotate(0.03 111 362.5)" font-size="1.6" font-weight="700" text-anchor="middle" fill="#ffffff" opacity="0.8999999999999999">thinking</text>
<circle cx="89" cy="374" r="6" fill="#3366cc"/>
<text x="89" y="373.70" transform="rotate(0.03 89 374)" font-size="1.6" font-weight="700" text-anchor="middle" fill="#ffffff" opacity="0.8999999999999999">Systems</text>
<text x="89" y="375.40" transform="rotate(0.03 89 374)" font-size="1.6" font-weight="700" text-anchor="middle" fill="#ffffff" opacity="0.8999999999999999">thinking</text>
<circle cx="132" cy="376" r="6" fill="#1f7297"/>
<text x="132" y="375.70" transform="rotate(0.03 132 376)" font-size="1.6" font-weight="700" text-anchor="middle" fill="#ffffff" opacity="0.8999999999999999">Collaborative</text>
<text x="132" y="377.40" transform="rotate(0.03 132 376)" font-size="1.6" font-weight="700" text-anchor="middle" fill="#ffffff" opacity="0.8999999999999999">design tools</text>
<circle cx="110" cy="388" r="6" fill="#3366cc"/>
<text x="110" y="387.70" transform="rotate(0.03 110 388)" font-size="1.6" font-weight="700" text-anchor="middle" fill="#ffffff" opacity="0.8999999999999999">Systems</text>
<text x="110" y="389.40" transform="rotate(0.03 110 388)" font-size="1.6" font-weight="700" text-anchor="middle" fill="#ffffff" opacity="0.8999999999999999">thinking</text>
<circle cx="208.5" cy="379" r="6" fill="#4fc3f7"/>
<text x="208.5" y="377.85" transform="rotate(0.03 208.5 379)" font-size="1.6" font-weight="700" text-anchor="middle" fill="#2b6f8f" opacity="0.75">Digital</text>
<text x="208.5" y="379.55" transform="rotate(0.03 208.5 379)" font-size="1.6" font-weight="700" text-anchor="middle" fill="#2b6f8f" opacity="0.75">whiteboards</text>
<text x="208.5" y="381.25" transform="rotate(0.03 208.5 379)" font-size="1.6" font-weight="700" text-anchor="middle" fill="#2b6f8f" opacity="0.75">online</text>
<circle cx="370" cy="68.5" r="6" fill="#000000"/>
<text x="370" y="68.20" transform="rotate(0.03 370 68.5)" font-size="1.6" font-weight="700" text-anchor="middle" fill="#ffffff" opacity="0.8999999999999999">Facilitation</text>
<text x="370" y="69.90" transform="rotate(0.03 370 68.5)" font-size="1.6" font-weight="700" text-anchor="middle" fill="#ffffff" opacity="0.8999999999999999">Future Skills</text>
<circle cx="382" cy="16.5" r="6" fill="#1f7297"/>
<text x="382" y="16.20" transform="rotate(0.03 382 16.5)" font-size="1.6" font-weight="700" text-anchor="middle" fill="#ffffff" opacity="0.8999999999999999">Facilitation</text>
<text x="382" y="17.90" transform="rotate(0.03 382 16.5)" font-size="1.6" font-weight="700" text-anchor="middle" fill="#ffffff" opacity="0.8999999999999999">methods</text>
<circle cx="406.5" cy="12" r="6" fill="#3366cc"/>
<text x="406.5" y="11.70" transform="rotate(0.03 406.5 12)" font-size="1.6" font-weight="700" text-anchor="middle" fill="#ffffff" opacity="0.8999999999999999">Visual</text>
<text x="406.5" y="13.40" transform="rotate(0.03 406.5 12)" font-size="1.6" font-weight="700" text-anchor="middle" fill="#ffffff" opacity="0.8999999999999999">thinking</text>
<circle cx="431" cy="7" r="6" fill="#c7d5f1"/>
<text x="431" y="6.70" transform="rotate(0.03 431 7)" font-size="1.6" font-weight="700" text-anchor="middle" fill="#ffffff" opacity="0.75">Facilitation</text>
<text x="431" y="8.40" transform="rotate(0.03 431 7)" font-size="1.6" font-weight="700" text-anchor="middle" fill="#ffffff" opacity="0.75">methods</text>
<circle cx="456" cy="12" r="6" fill="#4fc3f7"/>
<text x="456" y="11.70" transform="rotate(0.03 456 12)" font-size="1.6" font-weight="700" text-anchor="middle" fill="#2b6f8f" opacity="0.75">Collaborative</text>
<text x="456" y="13.40" transform="rotate(0.03 456 12)" font-size="1.6" font-weight="700" text-anchor="middle" fill="#2b6f8f" opacity="0.75">design tools</text>
<circle cx="398" cy="35" r="6" fill="#1f7297"/>
<text x="398" y="34.70" transform="rotate(0.03 398 35)" font-size="1.6" font-weight="700" text-anchor="middle" fill="#ffffff" opacity="0.8999999999999999">Facilitation</text>
<text x="398" y="36.40" transform="rotate(0.03 398 35)" font-size="1.6" font-weight="700" text-anchor="middle" fill="#ffffff" opacity="0.8999999999999999">methods</text>
<circle cx="423" cy="31" r="6" fill="#1f7297"/>
<text x="423" y="30.70" transform="rotate(0.03 423 31)" font-size="1.6" font-weight="700" text-anchor="middle" fill="#ffffff" opacity="0.8999999999999999">Systems</text>
<text x="423" y="32.40" transform="rotate(0.03 423 31)" font-size="1.6" font-weight="700" text-anchor="middle" fill="#ffffff" opacity="0.8999999999999999">thinking</text>
<circle cx="441.5" cy="47.5" r="6" fill="#3366cc"/>
<text x="441.5" y="46.35" transform="rotate(0.03 441.5 47.5)" font-size="1.6" font-weight="700" text-anchor="middle" fill="#ffffff" opacity="0.8999999999999999">Digital</text>
<text x="441.5" y="48.05" transform="rotate(0.03 441.5 47.5)" font-size="1.6" font-weight="700" text-anchor="middle" fill="#ffffff" opacity="0.8999999999999999">whiteboards</text>
<text x="441.5" y="49.75" transform="rotate(0.03 441.5 47.5)" font-size="1.6" font-weight="700" text-anchor="middle" fill="#ffffff" opacity="0.8999999999999999">online</text>
<circle cx="418" cy="55.5" r="6" fill="#3366cc"/>
<text x="418" y="55.20" transform="rotate(0.03 418 55.5)" font-size="1.6" font-weight="700" text-anchor="middle" fill="#ffffff" opacity="0.8999999999999999">Stakeholder</text>
<text x="418" y="56.90" transform="rotate(0.03 418 55.5)" font-size="1.6" font-weight="700" text-anchor="middle" fill="#ffffff" opacity="0.8999999999999999">engagement</text>
<circle cx="393.5" cy="60" r="6" fill="#c7d5f1"/>
<text x="393.5" y="59.70" transform="rotate(0.03 393.5 60)" font-size="1.6" font-weight="700" text-anchor="middle" fill="#ffffff" opacity="0.75">Collaborative</text>
<text x="393.5" y="61.40" transform="rotate(0.03 393.5 60)" font-size="1.6" font-weight="700" text-anchor="middle" fill="#ffffff" opacity="0.75">design tools</text>
<circle cx="438" cy="74" r="6" fill="#adadad"/>
<text x="438" y="73.70" transform="rotate(0.03 438 74)" font-size="1.6" font-weight="700" text-anchor="middle" fill="#ffffff" opacity="0.75">Stakeholder</text>
<text x="438" y="75.40" transform="rotate(0.03 438 74)" font-size="1.6" font-weight="700" text-anchor="middle" fill="#ffffff" opacity="0.75">engagement</text>
<circle cx="402.6" cy="151.5" r="6" fill="#000000"/>
<text x="402.6" y="151.20" transform="rotate(0.03 402.6 151.5)" font-size="1.6" font-weight="700" text-anchor="middle" fill="#ffffff" opacity="0.8999999999999999">Facilitation</text>
<text x="402.6" y="152.90" transform="rotate(0.03 402.6 151.5)" font-size="1.6" font-weight="700" text-anchor="middle" fill="#ffffff" opacity="0.8999999999999999">Future Skills</text>
<circle cx="459.6" cy="161" r="6" fill="#3366cc"/>
<text x="459.6" y="160.70" transform="rotate(0.03 459.6 161)" font-size="1.6" font-weight="700" text-anchor="middle" fill="#ffffff" opacity="0.8999999999999999">Visual</text>
<text x="459.6" y="162.40" transform="rotate(0.03 459.6 161)" font-size="1.6" font-weight="700" text-anchor="middle" fill="#ffffff" opacity="0.8999999999999999">thinking</text>
<circle cx="437" cy="171.5" r="6" fill="#1f7297"/>
<text x="437" y="170.35" transform="rotate(0.03 437 171.5)" font-size="1.6" font-weight="700" text-anchor="middle" fill="#ffffff" opacity="0.8999999999999999">Workshop</text>
<text x="437" y="172.05" transform="rotate(0.03 437 171.5)" font-size="1.6" font-weight="700" text-anchor="middle" fill="#ffffff" opacity="0.8999999999999999">planning</text>
<text x="437" y="173.75" transform="rotate(0.03 437 171.5)" font-size="1.6" font-weight="700" text-anchor="middle" fill="#ffffff" opacity="0.8999999999999999">practice</text>
<circle cx="481" cy="174" r="6" fill="#3366cc"/>
<text x="481" y="173.70" transform="rotate(0.03 481 174)" font-size="1.6" font-weight="700" text-anchor="middle" fill="#ffffff" opacity="0.8999999999999999">Visual</text>
<text x="481" y="175.40" transform="rotate(0.03 481 174)" font-size="1.6" font-weight="700" text-anchor="middle" fill="#ffffff" opacity="0.8999999999999999">thinking</text>
<circle cx="458.8" cy="185.6" r="6" fill="#3366cc"/>
<text x="458.8" y="185.30" transform="rotate(0.03 458.8 185.6)" font-size="1.6" font-weight="700" text-anchor="middle" fill="#ffffff" opacity="0.8999999999999999">Systems</text>
<text x="458.8" y="187.00" transform="rotate(0.03 458.8 185.6)" font-size="1.6" font-weight="700" text-anchor="middle" fill="#ffffff" opacity="0.8999999999999999">thinking</text>
<circle cx="375.8" cy="186.7" r="6" fill="#c3dce7"/>
<text x="375.8" y="186.40" transform="rotate(0.03 375.8 186.7)" font-size="1.6" font-weight="700" text-anchor="middle" fill="#ffffff" opacity="0.75">Stakeholder</text>
<text x="375.8" y="188.10" transform="rotate(0.03 375.8 186.7)" font-size="1.6" font-weight="700" text-anchor="middle" fill="#ffffff" opacity="0.75">engagement</text>
<circle cx="401" cy="184" r="6" fill="#c3dce7"/>
<text x="401" y="182.85" transform="rotate(0.03 401 184)" font-size="1.6" font-weight="700" text-anchor="middle" fill="#ffffff" opacity="0.75">Digital</text>
<text x="401" y="184.55" transform="rotate(0.03 401 184)" font-size="1.6" font-weight="700" text-anchor="middle" fill="#ffffff" opacity="0.75">whiteboards</text>
<text x="401" y="186.25" transform="rotate(0.03 401 184)" font-size="1.6" font-weight="700" text-anchor="middle" fill="#ffffff" opacity="0.75">online</text>
<circle cx="436" cy="196" r="6" fill="#c3dce7"/>
<text x="436" y="195.70" transform="rotate(0.03 436 196)" font-size="1.6" font-weight="700" text-anchor="middle" fill="#ffffff" opacity="0.75">Facilitation</text>
<text x="436" y="197.40" transform="rotate(0.03 436 196)" font-size="1.6" font-weight="700" text-anchor="middle" fill="#ffffff" opacity="0.75">methods</text>
<circle cx="351" cy="199" r="6" fill="#1f7297"/>
<text x="351" y="198.70" transform="rotate(0.03 351 199)" font-size="1.6" font-weight="700" text-anchor="middle" fill="#ffffff" opacity="0.8999999999999999">Systems</text>
<text x="351" y="200.40" transform="rotate(0.03 351 199)" font-size="1.6" font-weight="700" text-anchor="middle" fill="#ffffff" opacity="0.8999999999999999">thinking</text>
<circle cx="388.6" cy="207.7" r="6" fill="#c3dce7"/>
<text x="388.6" y="207.40" transform="rotate(0.03 388.6 207.7)" font-size="1.6" font-weight="700" text-anchor="middle" fill="#ffffff" opacity="0.75">Visual</text>
<text x="388.6" y="209.10" transform="rotate(0.03 388.6 207.7)" font-size="1.6" font-weight="700" text-anchor="middle" fill="#ffffff" opacity="0.75">thinking</text>
<circle cx="413" cy="206.4" r="6" fill="#c3dce7"/>
<text x="413" y="205.25" transform="rotate(0.03 413 206.4)" font-size="1.6" font-weight="700" text-anchor="middle" fill="#ffffff" opacity="0.75">Workshop</text>
<text x="413" y="206.95" transform="rotate(0.03 413 206.4)" font-size="1.6" font-weight="700" text-anchor="middle" fill="#ffffff" opacity="0.75">planning</text>
<text x="413" y="208.65" transform="rotate(0.03 413 206.4)" font-size="1.6" font-weight="700" text-anchor="middle" fill="#ffffff" opacity="0.75">practice</text>
<circle cx="456.4" cy="210.3" r="6" fill="#c3dce7"/>
<text x="456.4" y="209.15" transform="rotate(0.03 456.4 210.3)" font-size="1.6" font-weight="700" text-anchor="middle" fill="#ffffff" opacity="0.75">Workshop</text>
<text x="456.4" y="210.85" transform="rotate(0.03 456.4 210.3)" font-size="1.6" font-weight="700" text-anchor="middle" fill="#ffffff" opacity="0.75">planning</text>
<text x="456.4" y="212.55" transform="rotate(0.03 456.4 210.3)" font-size="1.6" font-weight="700" text-anchor="middle" fill="#ffffff" opacity="0.75">practice</text>
<circle cx="27" cy="39.5" r="6" fill="#c7d5f1"/>
<text x="27" y="38.35" transform="rotate(0.03 27 39.5)" font-size="1.6" font-weight="700" text-anchor="middle" fill="#ffffff" opacity="0.75">Digital</text>
<text x="27" y="40.05" transform="rotate(0.03 27 39.5)" font-size="1.6" font-weight="700" text-anchor="middle" fill="#ffffff" opacity="0.75">whiteboards</text>
<text x="27" y="41.75" transform="rotate(0.03 27 39.5)" font-size="1.6" font-weight="700" text-anchor="middle" fill="#ffffff" opacity="0.75">online</text>
<circle cx="7.5" cy="77.5" r="6" fill="#adadad"/>
<text x="7.5" y="77.20" transform="rotate(0.03 7.5 77.5)" font-size="1.6" font-weight="700" text-anchor="middle" fill="#ffffff" opacity="0.75">Stakeholder</text>
<text x="7.5" y="78.90" transform="rotate(0.03 7.5 77.5)" font-size="1.6" font-weight="700" text-anchor="middle" fill="#ffffff" opacity="0.75">engagement</text>
<circle cx="-1" cy="124" r="6" fill="#c7d5f1"/>
<text x="-1" y="123.70" transform="rotate(0.03 -1 124)" font-size="1.6" font-weight="700" text-anchor="middle" fill="#ffffff" opacity="0.75">Collaborative</text>
<text x="-1" y="125.40" transform="rotate(0.03 -1 124)" font-size="1.6" font-weight="700" text-anchor="middle" fill="#ffffff" opacity="0.75">design tools</text>
<circle cx="223" cy="51.5" r="6" fill="#adadad"/>
<text x="223" y="51.20" transform="rotate(0.03 223 51.5)" font-size="1.6" font-weight="700" text-anchor="middle" fill="#ffffff" opacity="0.75">Facilitation</text>
<text x="223" y="52.90" transform="rotate(0.03 223 51.5)" font-size="1.6" font-weight="700" text-anchor="middle" fill="#ffffff" opacity="0.75">methods</text>
<circle cx="194" cy="96" r="6" fill="#c7d5f1"/>
<text x="194" y="95.70" transform="rotate(0.03 194 96)" font-size="1.6" font-weight="700" text-anchor="middle" fill="#ffffff" opacity="0.75">Collaborative</text>
<text x="194" y="97.40" transform="rotate(0.03 194 96)" font-size="1.6" font-weight="700" text-anchor="middle" fill="#ffffff" opacity="0.75">design tools</text>
<circle cx="218" cy="89" r="6" fill="#c7d5f1"/>
<text x="218" y="88.70" transform="rotate(0.03 218 89)" font-size="1.6" font-weight="700" text-anchor="middle" fill="#ffffff" opacity="0.75">Collaborative</text>
<text x="218" y="90.40" transform="rotate(0.03 218 89)" font-size="1.6" font-weight="700" text-anchor="middle" fill="#ffffff" opacity="0.75">design tools</text>
<circle cx="183" cy="118" r="6" fill="#adadad"/>
<text x="183" y="117.70" transform="rotate(0.03 183 118)" font-size="1.6" font-weight="700" text-anchor="middle" fill="#ffffff" opacity="0.75">Visual</text>
<text x="183" y="119.40" transform="rotate(0.03 183 118)" font-size="1.6" font-weight="700" text-anchor="middle" fill="#ffffff" opacity="0.75">thinking</text>
<circle cx="210" cy="135.5" r="6" fill="#adadad"/>
<text x="210" y="135.20" transform="rotate(0.03 210 135.5)" font-size="1.6" font-weight="700" text-anchor="middle" fill="#ffffff" opacity="0.75">Facilitation</text>
<text x="210" y="136.90" transform="rotate(0.03 210 135.5)" font-size="1.6" font-weight="700" text-anchor="middle" fill="#ffffff" opacity="0.75">methods</text>
<circle cx="202" cy="174" r="6" fill="#c7d5f1"/>
<text x="202" y="173.70" transform="rotate(0.03 202 174)" font-size="1.6" font-weight="700" text-anchor="middle" fill="#ffffff" opacity="0.75">Visual</text>
<text x="202" y="175.40" transform="rotate(0.03 202 174)" font-size="1.6" font-weight="700" text-anchor="middle" fill="#ffffff" opacity="0.75">thinking</text>
<circle cx="255.5" cy="11" r="6" fill="#cfeefa"/>
<text x="255.5" y="10.70" transform="rotate(0.03 255.5 11)" font-size="1.6" font-weight="700" text-anchor="middle" fill="#2b6f8f" opacity="0.7">Collaborative</text>
<text x="255.5" y="12.40" transform="rotate(0.03 255.5 11)" font-size="1.6" font-weight="700" text-anchor="middle" fill="#2b6f8f" opacity="0.7">design tools</text>
<circle cx="256.5" cy="42.5" r="6" fill="#cfeefa"/>
<text x="256.5" y="42.20" transform="rotate(0.03 256.5 42.5)" font-size="1.6" font-weight="700" text-anchor="middle" fill="#2b6f8f" opacity="0.7">Stakeholder</text>
<text x="256.5" y="43.90" transform="rotate(0.03 256.5 42.5)" font-size="1.6" font-weight="700" text-anchor="middle" fill="#2b6f8f" opacity="0.7">engagement</text>
<circle cx="351.5" cy="10" r="6" fill="#cfeefa"/>
<text x="351.5" y="9.70" transform="rotate(0.03 351.5 10)" font-size="1.6" font-weight="700" text-anchor="middle" fill="#2b6f8f" opacity="0.7">Stakeholder</text>
<text x="351.5" y="11.40" transform="rotate(0.03 351.5 10)" font-size="1.6" font-weight="700" text-anchor="middle" fill="#2b6f8f" opacity="0.7">engagement</text>
<circle cx="283" cy="14" r="6" fill="#adadad"/>
<text x="283" y="13.70" transform="rotate(0.03 283 14)" font-size="1.6" font-weight="700" text-anchor="middle" fill="#ffffff" opacity="0.75">Facilitation</text>
<text x="283" y="15.40" transform="rotate(0.03 283 14)" font-size="1.6" font-weight="700" text-anchor="middle" fill="#ffffff" opacity="0.75">methods</text>
<circle cx="57" cy="273.5" r="6" fill="#adadad"/>
<text x="57" y="273.20" transform="rotate(0.03 57 273.5)" font-size="1.6" font-weight="700" text-anchor="middle" fill="#ffffff" opacity="0.75">Collaborative</text>
<text x="57" y="274.90" transform="rotate(0.03 57 273.5)" font-size="1.6" font-weight="700" text-anchor="middle" fill="#ffffff" opacity="0.75">design tools</text>
<circle cx="165" cy="273.5" r="6" fill="#adadad"/>
<text x="165" y="273.20" transform="rotate(0.03 165 273.5)" font-size="1.6" font-weight="700" text-anchor="middle" fill="#ffffff" opacity="0.75">Collaborative</text>
<text x="165" y="274.90" transform="rotate(0.03 165 273.5)" font-size="1.6" font-weight="700" text-anchor="middle" fill="#ffffff" opacity="0.75">design tools</text>
<circle cx="123" cy="288" r="6" fill="#c7d5f1"/>
<text x="123" y="286.85" transform="rotate(0.03 123 288)" font-size="1.6" font-weight="700" text-anchor="middle" fill="#ffffff" opacity="0.75">Workshop</text>
<text x="123" y="288.55" transform="rotate(0.03 123 288)" font-size="1.6" font-weight="700" text-anchor="middle" fill="#ffffff" opacity="0.75">planning</text>
<text x="123" y="290.25" transform="rotate(0.03 123 288)" font-size="1.6" font-weight="700" text-anchor="middle" fill="#ffffff" opacity="0.75">practice</text>
<circle cx="20" cy="297" r="6" fill="#c7d5f1"/>
<text x="20" y="296.70" transform="rotate(0.03 20 297)" font-size="1.6" font-weight="700" text-anchor="middle" fill="#ffffff" opacity="0.75">Systems</text>
<text x="20" y="298.40" transform="rotate(0.03 20 297)" font-size="1.6" font-weight="700" text-anchor="middle" fill="#ffffff" opacity="0.75">thinking</text>
<circle cx="7" cy="333" r="6" fill="#adadad"/>
<text x="7" y="332.70" transform="rotate(0.03 7 333)" font-size="1.6" font-weight="700" text-anchor="middle" fill="#ffffff" opacity="0.75">Stakeholder</text>
<text x="7" y="334.40" transform="rotate(0.03 7 333)" font-size="1.6" font-weight="700" text-anchor="middle" fill="#ffffff" opacity="0.75">engagement</text>
<circle cx="27" cy="350" r="6" fill="#adadad"/>
<text x="27" y="349.70" transform="rotate(0.03 27 350)" font-size="1.6" font-weight="700" text-anchor="middle" fill="#ffffff" opacity="0.75">Facilitation</text>
<text x="27" y="351.40" transform="rotate(0.03 27 350)" font-size="1.6" font-weight="700" text-anchor="middle" fill="#ffffff" opacity="0.75">methods</text>
<circle cx="29" cy="381" r="6" fill="#c7d5f1"/>
<text x="29" y="380.70" transform="rotate(0.03 29 381)" font-size="1.6" font-weight="700" text-anchor="middle" fill="#ffffff" opacity="0.75">Systems</text>
<text x="29" y="382.40" transform="rotate(0.03 29 381)" font-size="1.6" font-weight="700" text-anchor="middle" fill="#ffffff" opacity="0.75">thinking</text>
<circle cx="2" cy="402" r="6" fill="#adadad"/>
<text x="2" y="401.70" transform="rotate(0.03 2 402)" font-size="1.6" font-weight="700" text-anchor="middle" fill="#ffffff" opacity="0.75">Systems</text>
<text x="2" y="403.40" transform="rotate(0.03 2 402)" font-size="1.6" font-weight="700" text-anchor="middle" fill="#ffffff" opacity="0.75">thinking</text>
<circle cx="-2" cy="310.5" r="6" fill="#c7d5f1"/>
<text x="-2" y="310.20" transform="rotate(0.03 -2 310.5)" font-size="1.6" font-weight="700" text-anchor="middle" fill="#ffffff" opacity="0.75">Facilitation</text>
<text x="-2" y="311.90" transform="rotate(0.03 -2 310.5)" font-size="1.6" font-weight="700" text-anchor="middle" fill="#ffffff" opacity="0.75">methods</text>
<circle cx="57" cy="407" r="6" fill="#c7d5f1"/>
<text x="57" y="405.85" transform="rotate(0.03 57 407)" font-size="1.6" font-weight="700" text-anchor="middle" fill="#ffffff" opacity="0.75">Workshop</text>
<text x="57" y="407.55" transform="rotate(0.03 57 407)" font-size="1.6" font-weight="700" text-anchor="middle" fill="#ffffff" opacity="0.75">planning</text>
<text x="57" y="409.25" transform="rotate(0.03 57 407)" font-size="1.6" font-weight="700" text-anchor="middle" fill="#ffffff" opacity="0.75">practice</text>
<circle cx="486" cy="-7" r="6" fill="#adadad"/>
<text x="486" y="-7.30" transform="rotate(0.03 486 -7)" font-size="1.6" font-weight="700" text-anchor="middle" fill="#ffffff" opacity="0.75">Facilitation</text>
<text x="486" y="-5.60" transform="rotate(0.03 486 -7)" font-size="1.6" font-weight="700" text-anchor="middle" fill="#ffffff" opacity="0.75">methods</text>
<rect x="220" y="200.5" width="24.5" height="9.2" rx="1" fill="#4c38a8"/>
<text x="232.2" y="203.40" transform="rotate(0.03 232 205)" font-size="1.95" font-weight="700" text-anchor="middle" fill="#fff">The future of business</text>
<text x="232.2" y="205.55" transform="rotate(0.03 232 205)" font-size="1.95" font-weight="700" text-anchor="middle" fill="#fff">analysis, agile and design</text>
<text x="232.2" y="207.70" transform="rotate(0.03 232 205)" font-size="1.95" font-weight="700" text-anchor="middle" fill="#fff">facilitation</text>
</g>
<rect x="0" y="0" width="515.8" height="1.2" fill="#7ea5b9"/>
<rect x="0" y="0" width="1" height="403.8" fill="#b9d1dc"/>
<rect x="514" y="0" width="1.1" height="216" fill="#97b9cd"/><rect x="515" y="0" width="1" height="216" fill="#b9d0dd"/>
<rect x="0" y="403" width="230" height="1.1" fill="#8fb2c6"/>
<rect x="520" y="0" width="2" height="216" fill="#e6eef2"/>
<rect x="520" y="0" width="504" height="1" fill="#d3e1e9"/>
<rect x="1022.8" y="0" width="1.2" height="406" fill="#d8e4eb"/>
<rect x="812" y="404" width="212" height="2" fill="#e4edf2"/>
<g clip-path="url(#cr)">
<line x1="787" y1="193" x2="678.7" y2="36.4" stroke="#85857d" stroke-width="1.25"/>
<line x1="787" y1="193" x2="763.4" y2="44.9" stroke="#85857d" stroke-width="1.25"/>
<line x1="787" y1="193" x2="847.5" y2="55.3" stroke="#85857d" stroke-width="1.25"/>
<line x1="787" y1="193" x2="930.9" y2="37.8" stroke="#85857d" stroke-width="1.25"/>
<line x1="787" y1="193" x2="904.2" y2="118.6" stroke="#85857d" stroke-width="1.25"/>
<line x1="787" y1="193" x2="975" y2="166" stroke="#85857d" stroke-width="1.25"/>
<line x1="787" y1="193" x2="898.5" y2="203.2" stroke="#85857d" stroke-width="1.25"/>
<line x1="787" y1="193" x2="969" y2="250.9" stroke="#85857d" stroke-width="1.25"/>
<line x1="787" y1="193" x2="892.5" y2="288.1" stroke="#85857d" stroke-width="1.25"/>
<line x1="787" y1="193" x2="832" y2="348" stroke="#85857d" stroke-width="1.25"/>
<line x1="787" y1="193" x2="710.2" y2="115.8" stroke="#85857d" stroke-width="1.25"/>
<line x1="787" y1="193" x2="625.2" y2="108.75" stroke="#85857d" stroke-width="1.25"/>
<line x1="787" y1="193" x2="662" y2="185.75" stroke="#85857d" stroke-width="1.25"/>
<line x1="787" y1="193" x2="582.4" y2="216.3" stroke="#85857d" stroke-width="1.25"/>
<line x1="931" y1="38" x2="975" y2="166" stroke="#85857d" stroke-width="1.25"/>
<line x1="787" y1="193" x2="700" y2="240" stroke="#85857d" stroke-width="1.25"/>
<line x1="787" y1="193" x2="740" y2="260" stroke="#85857d" stroke-width="1.25"/>
<line x1="787" y1="193" x2="760" y2="270" stroke="#85857d" stroke-width="1.25"/>
<line x1="787" y1="193" x2="775" y2="270" stroke="#85857d" stroke-width="1.25"/>
<line x1="787" y1="193" x2="795" y2="270" stroke="#85857d" stroke-width="1.25"/>
<circle cx="787" cy="193" r="21" fill="#5bc8f5"/>
<text transform="translate(787 192.34) rotate(0.05) scale(0.8864 1)" font-size="4.4" font-weight="700" text-anchor="middle" fill="#1d3d4a">AI-assisted</text>
<text transform="translate(787 196.66) rotate(0.05) scale(0.8864 1)" font-size="4.4" font-weight="700" text-anchor="middle" fill="#1d3d4a">tools</text>
<circle cx="678.7" cy="36.4" r="17.4" fill="#b5f1dd"/>
<text transform="translate(678.7 29.26) rotate(0.05) scale(0.8864 1)" font-size="4.4" font-weight="700" text-anchor="middle" fill="#222">Zoom debuts AI</text>
<text transform="translate(678.7 33.58) rotate(0.05) scale(0.8864 1)" font-size="4.4" font-weight="700" text-anchor="middle" fill="#222">features for</text>
<text transform="translate(678.7 37.90) rotate(0.05) scale(0.8864 1)" font-size="4.4" font-weight="700" text-anchor="middle" fill="#222">business</text>
<text transform="translate(678.7 42.22) rotate(0.05) scale(0.8864 1)" font-size="4.4" font-weight="700" text-anchor="middle" fill="#222">workflows</text>
<text transform="translate(678.7 46.54) rotate(0.05) scale(0.8864 1)" font-size="4.4" font-weight="700" text-anchor="middle" fill="#222">across apps</text>
<circle cx="763.4" cy="44.9" r="17.4" fill="#b5f1dd"/>
<text transform="translate(763.4 39.92) rotate(0.05) scale(0.8864 1)" font-size="4.4" font-weight="700" text-anchor="middle" fill="#222">Transformative</text>
<text transform="translate(763.4 44.24) rotate(0.05) scale(0.8864 1)" font-size="4.4" font-weight="700" text-anchor="middle" fill="#222">Impact of AI in</text>
<text transform="translate(763.4 48.56) rotate(0.05) scale(0.8864 1)" font-size="4.4" font-weight="700" text-anchor="middle" fill="#222">Business</text>
<text transform="translate(763.4 52.88) rotate(0.05) scale(0.8864 1)" font-size="4.4" font-weight="700" text-anchor="middle" fill="#222">Analysis</text>
<circle cx="847.5" cy="55.3" r="17.5" fill="#b5f1dd"/>
<text transform="translate(847.5 54.64) rotate(0.05) scale(0.8864 1)" font-size="4.4" font-weight="700" text-anchor="middle" fill="#222">Prompt</text>
<text transform="translate(847.5 58.96) rotate(0.05) scale(0.8864 1)" font-size="4.4" font-weight="700" text-anchor="middle" fill="#222">engineering</text>
<circle cx="930.9" cy="37.8" r="21.2" fill="#1f7297"/>
<text transform="translate(930.9 39.30) rotate(0.05) scale(0.9091 1)" font-size="4.4" font-weight="700" text-anchor="middle" fill="#fff">Generative AI</text>
<circle cx="904.2" cy="118.6" r="17.4" fill="#b5f1dd"/>
<text transform="translate(904.2 104.98) rotate(0.05) scale(0.8864 1)" font-size="4.4" font-weight="700" text-anchor="middle" fill="#222">What is</text>
<text transform="translate(904.2 109.30) rotate(0.05) scale(0.8864 1)" font-size="4.4" font-weight="700" text-anchor="middle" fill="#222">Atlassian</text>
<text transform="translate(904.2 113.62) rotate(0.05) scale(0.8864 1)" font-size="4.4" font-weight="700" text-anchor="middle" fill="#222">Intelligence</text>
<text transform="translate(904.2 117.94) rotate(0.05) scale(0.8864 1)" font-size="4.4" font-weight="700" text-anchor="middle" fill="#222">and Its</text>
<text transform="translate(904.2 122.26) rotate(0.05) scale(0.8864 1)" font-size="4.4" font-weight="700" text-anchor="middle" fill="#222">Atlassian</text>
<text transform="translate(904.2 126.58) rotate(0.05) scale(0.8864 1)" font-size="4.4" font-weight="700" text-anchor="middle" fill="#222">Intelligence</text>
<text transform="translate(904.2 130.90) rotate(0.05) scale(0.8864 1)" font-size="4.4" font-weight="700" text-anchor="middle" fill="#222">Summarize Work</text>
<text transform="translate(904.2 135.22) rotate(0.05) scale(0.8864 1)" font-size="4.4" font-weight="700" text-anchor="middle" fill="#222">...</text>
<circle cx="975" cy="166" r="21" fill="#3366cc"/>
<text transform="translate(975 163.30) rotate(0.05) scale(0.9091 1)" font-size="4.4" font-weight="700" text-anchor="middle" fill="#fff">AI-Augmented</text>
<text transform="translate(975 167.50) rotate(0.05) scale(0.9091 1)" font-size="4.4" font-weight="700" text-anchor="middle" fill="#fff">Business</text>
<text transform="translate(975 171.70) rotate(0.05) scale(0.9091 1)" font-size="4.4" font-weight="700" text-anchor="middle" fill="#fff">Analysis</text>
<circle cx="898.5" cy="203.2" r="17.4" fill="#b5f1dd"/>
<text transform="translate(898.5 202.54) rotate(0.05) scale(0.8864 1)" font-size="4.4" font-weight="700" text-anchor="middle" fill="#222">Recap in</text>
<text transform="translate(898.5 206.86) rotate(0.05) scale(0.8864 1)" font-size="4.4" font-weight="700" text-anchor="middle" fill="#222">Microsoft Teams</text>
<circle cx="969" cy="250.9" r="17.4" fill="#b5f1dd"/>
<text transform="translate(969 237.28) rotate(0.05) scale(0.8864 1)" font-size="4.4" font-weight="700" text-anchor="middle" fill="#222">Can AI Be a</text>
<text transform="translate(969 241.60) rotate(0.05) scale(0.8864 1)" font-size="4.4" font-weight="700" text-anchor="middle" fill="#222">Co-Facilitator?</text>
<text transform="translate(969 245.92) rotate(0.05) scale(0.8864 1)" font-size="4.4" font-weight="700" text-anchor="middle" fill="#222">The Promise &amp;</text>
<text transform="translate(969 250.24) rotate(0.05) scale(0.8864 1)" font-size="4.4" font-weight="700" text-anchor="middle" fill="#222">Limits of</text>
<text transform="translate(969 254.56) rotate(0.05) scale(0.8864 1)" font-size="4.4" font-weight="700" text-anchor="middle" fill="#222">Artificial</text>
<text transform="translate(969 258.88) rotate(0.05) scale(0.8864 1)" font-size="4.4" font-weight="700" text-anchor="middle" fill="#222">Intelligence in</text>
<text transform="translate(969 263.20) rotate(0.05) scale(0.8864 1)" font-size="4.4" font-weight="700" text-anchor="middle" fill="#222">Association</text>
<text transform="translate(969 267.52) rotate(0.05) scale(0.8864 1)" font-size="4.4" font-weight="700" text-anchor="middle" fill="#222">...</text>
<circle cx="892.5" cy="288.1" r="17.4" fill="#b5f1dd"/>
<text transform="translate(892.5 276.64) rotate(0.05) scale(0.8864 1)" font-size="4.4" font-weight="700" text-anchor="middle" fill="#222">The Future of</text>
<text transform="translate(892.5 280.96) rotate(0.05) scale(0.8864 1)" font-size="4.4" font-weight="700" text-anchor="middle" fill="#222">Requirements</text>
<text transform="translate(892.5 285.28) rotate(0.05) scale(0.8864 1)" font-size="4.4" font-weight="700" text-anchor="middle" fill="#222">Engineering:</text>
<text transform="translate(892.5 289.60) rotate(0.05) scale(0.8864 1)" font-size="4.4" font-weight="700" text-anchor="middle" fill="#222">Harnessing AI</text>
<text transform="translate(892.5 293.92) rotate(0.05) scale(0.8864 1)" font-size="4.4" font-weight="700" text-anchor="middle" fill="#222">to Transform</text>
<text transform="translate(892.5 298.24) rotate(0.05) scale(0.8864 1)" font-size="4.4" font-weight="700" text-anchor="middle" fill="#222">Software</text>
<text transform="translate(892.5 302.56) rotate(0.05) scale(0.8864 1)" font-size="4.4" font-weight="700" text-anchor="middle" fill="#222">Development</text>
<circle cx="832" cy="348" r="21" fill="#3366cc"/>
<text transform="translate(832 347.40) rotate(0.05) scale(0.9091 1)" font-size="4.4" font-weight="700" text-anchor="middle" fill="#fff">Participatory</text>
<text transform="translate(832 351.60) rotate(0.05) scale(0.9091 1)" font-size="4.4" font-weight="700" text-anchor="middle" fill="#fff">AI Design</text>
<circle cx="710.2" cy="115.8" r="17.4" fill="#b5f1dd"/>
<text transform="translate(710.2 112.98) rotate(0.05) scale(0.8864 1)" font-size="4.4" font-weight="700" text-anchor="middle" fill="#222">Using Meeting</text>
<text transform="translate(710.2 117.30) rotate(0.05) scale(0.8864 1)" font-size="4.4" font-weight="700" text-anchor="middle" fill="#222">Summary with AI</text>
<text transform="translate(710.2 121.62) rotate(0.05) scale(0.8864 1)" font-size="4.4" font-weight="700" text-anchor="middle" fill="#222">Companion</text>
<circle cx="625.2" cy="108.75" r="20.9" fill="#1f7297"/>
<text transform="translate(625.2 113.45) rotate(0.05) scale(0.9091 1)" font-size="4.4" font-weight="700" text-anchor="middle" fill="#fff">Human-in-the-loop</text>
<text transform="translate(625.2 117.65) rotate(0.05) scale(0.9091 1)" font-size="4.4" font-weight="700" text-anchor="middle" fill="#fff">AI</text>
<circle cx="662" cy="185.75" r="17.5" fill="#b5f1dd"/>
<text transform="translate(662 185.09) rotate(0.05) scale(0.8864 1)" font-size="4.4" font-weight="700" text-anchor="middle" fill="#222">Miro AI</text>
<text transform="translate(662 189.41) rotate(0.05) scale(0.8864 1)" font-size="4.4" font-weight="700" text-anchor="middle" fill="#222">overview</text>
<circle cx="582.4" cy="216.3" r="21" fill="#1f7297"/>
<text transform="translate(582.4 215.70) rotate(0.05) scale(0.9091 1)" font-size="4.4" font-weight="700" text-anchor="middle" fill="#fff">Conversational</text>
<text transform="translate(582.4 219.90) rotate(0.05) scale(0.9091 1)" font-size="4.4" font-weight="700" text-anchor="middle" fill="#fff">AI</text>
</g>
<rect x="230.5" y="217.5" width="584.5" height="311.1" fill="#000" opacity="0.43" filter="url(#sh)"/>
<rect x="228.5" y="215.5" width="585" height="312" fill="#fff" stroke="#79a2b7" stroke-width="1"/>
<g clip-path="url(#cc)">
<path d="M262.0 487.5 A247.5 247.5 0 0 1 757.0 487.5 Z" fill="url(#rg)"/>
<path d="M386.0 487.5 A123.5 123.5 0 0 1 633.0 487.5" fill="none" stroke="#fff" stroke-width="1.3"/>
<path d="M324.0 487.5 A185.5 185.5 0 0 1 695.0 487.5" fill="none" stroke="#fff" stroke-width="1.3"/>
<line x1="509.5" y1="487.5" x2="738.16" y2="392.79" stroke="#fff" stroke-width="1.3"/>
<line x1="509.5" y1="487.5" x2="684.51" y2="312.49" stroke="#fff" stroke-width="1.3"/>
<line x1="509.5" y1="487.5" x2="604.21" y2="258.84" stroke="#fff" stroke-width="1.3"/>
<line x1="509.5" y1="487.5" x2="509.50" y2="240.00" stroke="#fff" stroke-width="1.3"/>
<line x1="509.5" y1="487.5" x2="414.79" y2="258.84" stroke="#fff" stroke-width="1.3"/>
<line x1="509.5" y1="487.5" x2="334.49" y2="312.49" stroke="#fff" stroke-width="1.3"/>
<line x1="509.5" y1="487.5" x2="280.84" y2="392.79" stroke="#fff" stroke-width="1.3"/>
<path d="M484.5 487.5 A25 25 0 0 1 534.5 487.5 Z" fill="#fff"/>
<rect x="229" y="487.5" width="586" height="45" fill="#fff"/>
<circle cx="398.4" cy="301.6" r="5.5" fill="#4c80ca"/>
<circle cx="463.1" cy="317.4" r="4" fill="#4c80ca"/>
<circle cx="502.0" cy="310.2" r="4" fill="#4c80ca"/>
<circle cx="493.4" cy="331" r="4" fill="#4c80ca"/>
<circle cx="440.2" cy="352.4" r="5.5" fill="#4c80ca"/>
<circle cx="390.6" cy="390.2" r="3.7" fill="#4c80ca"/>
<circle cx="476.0" cy="384" r="3.7" fill="#4c80ca"/>
<circle cx="305.9" cy="410" r="5.5" fill="#4c80ca"/>
<circle cx="451.3" cy="409.4" r="5.5" fill="#4c80ca"/>
<circle cx="413.3" cy="425.6" r="5.5" fill="#4c80ca"/>
<circle cx="523.0" cy="425.3" r="5.5" fill="#4c80ca"/>
<circle cx="371.5" cy="442.5" r="4" fill="#4c80ca"/>
<circle cx="478.9" cy="441.8" r="5.5" fill="#4c80ca"/>
<circle cx="457.5" cy="462.9" r="4" fill="#4c80ca"/>
<circle cx="362.4" cy="470.7" r="5.5" fill="#4c80ca"/>
<circle cx="602.8" cy="385" r="4" fill="#4c80ca"/>
<circle cx="624.2" cy="410" r="5.5" fill="#4c80ca"/>
<circle cx="576.8" cy="442.1" r="5.5" fill="#4c80ca"/>
<circle cx="648.6" cy="466.5" r="5.5" fill="#4c80ca"/>
<circle cx="726.2" cy="407.4" r="4" fill="#4c80ca"/>
<circle cx="722.9" cy="421" r="4" fill="#4c80ca"/>
<circle cx="725.2" cy="439.9" r="5.5" fill="#4c80ca"/>
<circle cx="585.3" cy="337.7" r="5.5" fill="#4c80ca"/>
<circle cx="553.1" cy="355.7" r="4" fill="#4c80ca"/>
<circle cx="658.2" cy="351.5" r="4" fill="#4c80ca"/>
<g opacity="0.995">
<g transform="rotate(0.03 398.40000000000003 301.6)"><text x="402.10" y="303.3" font-size="4.85" textLength="84.94" lengthAdjust="spacingAndGlyphs" fill="#000" stroke="#fff" stroke-width="3.1" stroke-linejoin="round" paint-order="stroke">Knowledge Graph-Enabled Sensemaking</text></g>
<g transform="rotate(0.03 502.0 310.2)"><text x="505.70" y="311.9" font-size="4.85" textLength="60.91" lengthAdjust="spacingAndGlyphs" fill="#000" stroke="#fff" stroke-width="3.1" stroke-linejoin="round" paint-order="stroke">Augmented Visual Facilitation</text></g>
<g transform="rotate(0.03 493.40000000000003 331)"><text x="497.10" y="332.7" font-size="4.85" textLength="67.17" lengthAdjust="spacingAndGlyphs" fill="#000" stroke="#fff" stroke-width="3.1" stroke-linejoin="round" paint-order="stroke">Playful Futures and Serious Play</text></g>
<g transform="rotate(0.03 440.20000000000005 352.4)"><text x="443.90" y="354.1" font-size="4.85" textLength="75.15" lengthAdjust="spacingAndGlyphs" fill="#000" stroke="#fff" stroke-width="3.1" stroke-linejoin="round" paint-order="stroke">Generative Documentation Pipelines</text></g>
<g transform="rotate(0.03 390.6 390.2)"><text x="394.30" y="391.9" font-size="4.85" textLength="64.33" lengthAdjust="spacingAndGlyphs" fill="#000" stroke="#fff" stroke-width="3.1" stroke-linejoin="round" paint-order="stroke">Facilitation as a Service (FaaS)</text></g>
<g transform="rotate(0.03 476.0 384)"><text x="479.70" y="385.7" font-size="4.85" textLength="61.75" lengthAdjust="spacingAndGlyphs" fill="#000" stroke="#fff" stroke-width="3.1" stroke-linejoin="round" paint-order="stroke">Micro-Facilitation Frameworks</text></g>
<g transform="rotate(0.03 305.90000000000003 410)"><text x="309.60" y="411.7" font-size="4.85" textLength="81.84" lengthAdjust="spacingAndGlyphs" fill="#000" stroke="#fff" stroke-width="3.1" stroke-linejoin="round" paint-order="stroke">Foresight Literacy as Core Competence</text></g>
<g transform="rotate(0.03 451.3 409.4)"><text x="455.00" y="411.1" font-size="4.85" textLength="67.94" lengthAdjust="spacingAndGlyphs" fill="#000" stroke="#fff" stroke-width="3.1" stroke-linejoin="round" paint-order="stroke">AI-Augmented Business Analysis</text></g>
<g transform="rotate(0.03 413.3 425.6)"><text x="417.00" y="427.3" font-size="4.85" textLength="59.70" lengthAdjust="spacingAndGlyphs" fill="#000" stroke="#fff" stroke-width="3.1" stroke-linejoin="round" paint-order="stroke">Hybrid Collaboration Mastery</text></g>
<g transform="rotate(0.03 523.0 425.3)"><text x="526.70" y="427.0" font-size="4.85" textLength="68.72" lengthAdjust="spacingAndGlyphs" fill="#000" stroke="#fff" stroke-width="3.1" stroke-linejoin="round" paint-order="stroke">Psychological Safety Engineering</text></g>
<g transform="rotate(0.03 371.5 442.5)"><text x="375.20" y="444.2" font-size="4.85" textLength="85.87" lengthAdjust="spacingAndGlyphs" fill="#000" stroke="#fff" stroke-width="3.1" stroke-linejoin="round" paint-order="stroke">Neuroscience-Informed Workshop Design</text></g>
<g transform="rotate(0.03 478.90000000000003 441.8)"><text x="482.60" y="443.5" font-size="4.85" textLength="78.23" lengthAdjust="spacingAndGlyphs" fill="#000" stroke="#fff" stroke-width="3.1" stroke-linejoin="round" paint-order="stroke">Facilitation Bots and AI Co-Facilitators</text></g>
<g transform="rotate(0.03 457.5 462.9)"><text x="461.20" y="464.6" font-size="4.85" textLength="64.32" lengthAdjust="spacingAndGlyphs" fill="#000" stroke="#fff" stroke-width="3.1" stroke-linejoin="round" paint-order="stroke">Data-Driven Facilitation Metrics</text></g>
<g transform="rotate(0.03 362.40000000000003 470.7)"><text x="366.10" y="472.4" font-size="4.85" textLength="69.23" lengthAdjust="spacingAndGlyphs" fill="#000" stroke="#fff" stroke-width="3.1" stroke-linejoin="round" paint-order="stroke">Creative Confidence as Core Skill</text></g>
<g transform="rotate(0.03 602.8000000000001 385)"><text x="606.50" y="386.7" font-size="4.85" textLength="65.88" lengthAdjust="spacingAndGlyphs" fill="#000" stroke="#fff" stroke-width="3.1" stroke-linejoin="round" paint-order="stroke">Learning-in-the-Flow Facilitation</text></g>
<g transform="rotate(0.03 624.2 410)"><text x="627.90" y="411.7" font-size="4.85" textLength="64.07" lengthAdjust="spacingAndGlyphs" fill="#000" stroke="#fff" stroke-width="3.1" stroke-linejoin="round" paint-order="stroke">Ethical Facilitation Frameworks</text></g>
<g transform="rotate(0.03 576.8000000000001 442.1)"><text x="580.50" y="443.8" font-size="4.85" textLength="94.89" lengthAdjust="spacingAndGlyphs" fill="#000" stroke="#fff" stroke-width="3.1" stroke-linejoin="round" paint-order="stroke">Behavioural Data Ethics in Collaboration Tools</text></g>
<g transform="rotate(0.03 648.6 466.5)"><text x="652.30" y="468.2" font-size="4.85" textLength="80.04" lengthAdjust="spacingAndGlyphs" fill="#000" stroke="#fff" stroke-width="3.1" stroke-linejoin="round" paint-order="stroke">Foresight-Integrated Business Analysis</text></g>
<g transform="rotate(0.03 726.2 407.4)"><text x="729.90" y="409.1" font-size="4.85" textLength="69.23" lengthAdjust="spacingAndGlyphs" fill="#000" stroke="#fff" stroke-width="3.1" stroke-linejoin="round" paint-order="stroke">Embodied &amp; Sensorial Facilitation</text></g>
<g transform="rotate(0.03 722.9 421)"><text x="726.60" y="422.7" font-size="4.85" textLength="82.85" lengthAdjust="spacingAndGlyphs" fill="#000" stroke="#fff" stroke-width="3.1" stroke-linejoin="round" paint-order="stroke">Immersive Facilitation (XR &amp; Metaverse)</text></g>
<g transform="rotate(0.03 725.2 439.9)"><text x="728.90" y="441.6" font-size="4.85" textLength="46.84" lengthAdjust="spacingAndGlyphs" fill="#000" stroke="#fff" stroke-width="3.1" stroke-linejoin="round" paint-order="stroke">Participatory AI Design</text></g>
<g transform="rotate(0.03 585.3000000000001 337.7)"><text x="589.00" y="339.4" font-size="4.85" textLength="54.29" lengthAdjust="spacingAndGlyphs" fill="#000" stroke="#fff" stroke-width="3.1" stroke-linejoin="round" paint-order="stroke">Cognitive-Diversity Design</text></g>
<g transform="rotate(0.03 553.1 355.7)"><text x="556.80" y="357.4" font-size="4.85" textLength="55.58" lengthAdjust="spacingAndGlyphs" fill="#000" stroke="#fff" stroke-width="3.1" stroke-linejoin="round" paint-order="stroke">Purpose-Driven Facilitation</text></g>
<g transform="rotate(0.03 658.2 351.5)"><text x="661.90" y="353.2" font-size="4.85" textLength="52.24" lengthAdjust="spacingAndGlyphs" fill="#000" stroke="#fff" stroke-width="3.1" stroke-linejoin="round" paint-order="stroke">Algorithmic Sensemaking</text></g>
</g>
<path id="sp0" d="M250.90 487.50 A258.6 258.6 0 0 1 270.58 388.54" fill="none"/>
<text font-size="10.6" fill="#707070" stroke="#fff" stroke-width="3.8" stroke-linejoin="round" paint-order="stroke" text-anchor="middle" textLength="55.8" lengthAdjust="spacingAndGlyphs"><textPath href="#sp0" startOffset="50%" textLength="55.8" lengthAdjust="spacingAndGlyphs">People &amp; Skills</textPath></text>
<path id="sp1" d="M270.58 388.54 A258.6 258.6 0 0 1 326.64 304.64" fill="none"/>
<text font-size="10.6" fill="#707070" stroke="#fff" stroke-width="3.8" stroke-linejoin="round" paint-order="stroke" text-anchor="middle" textLength="73.4" lengthAdjust="spacingAndGlyphs"><textPath href="#sp1" startOffset="50%" textLength="73.4" lengthAdjust="spacingAndGlyphs">Process &amp; Practice</textPath></text>
<path id="sp2" d="M326.64 304.64 A258.6 258.6 0 0 1 410.54 248.58" fill="none"/>
<text font-size="10.6" fill="#707070" stroke="#fff" stroke-width="3.8" stroke-linejoin="round" paint-order="stroke" text-anchor="middle" textLength="81.5" lengthAdjust="spacingAndGlyphs"><textPath href="#sp2" startOffset="50%" textLength="81.5" lengthAdjust="spacingAndGlyphs">Tools &amp; Technologies</textPath></text>
<path id="sp3" d="M410.54 248.58 A258.6 258.6 0 0 1 509.50 228.90" fill="none"/>
<text font-size="10.6" fill="#707070" stroke="#fff" stroke-width="3.8" stroke-linejoin="round" paint-order="stroke" text-anchor="middle" textLength="93.7" lengthAdjust="spacingAndGlyphs"><textPath href="#sp3" startOffset="50%" textLength="93.7" lengthAdjust="spacingAndGlyphs">Methods &amp; Frameworks</textPath></text>
<path id="sp4" d="M509.50 228.90 A258.6 258.6 0 0 1 608.46 248.58" fill="none"/>
<text font-size="10.6" fill="#707070" stroke="#fff" stroke-width="3.8" stroke-linejoin="round" paint-order="stroke" text-anchor="middle" textLength="75.9" lengthAdjust="spacingAndGlyphs"><textPath href="#sp4" startOffset="50%" textLength="75.9" lengthAdjust="spacingAndGlyphs">Mindsets &amp; Culture</textPath></text>
<path id="sp5" d="M608.46 248.58 A258.6 258.6 0 0 1 692.36 304.64" fill="none"/>
<text font-size="10.6" fill="#707070" stroke="#fff" stroke-width="3.8" stroke-linejoin="round" paint-order="stroke" text-anchor="middle" textLength="92.5" lengthAdjust="spacingAndGlyphs"><textPath href="#sp5" startOffset="50%" textLength="92.5" lengthAdjust="spacingAndGlyphs">Environment &amp; Context</textPath></text>
<path id="sp6" d="M692.36 304.64 A258.6 258.6 0 0 1 748.42 388.54" fill="none"/>
<text font-size="10.6" fill="#707070" stroke="#fff" stroke-width="3.8" stroke-linejoin="round" paint-order="stroke" text-anchor="middle" textLength="95" lengthAdjust="spacingAndGlyphs"><textPath href="#sp6" startOffset="50%" textLength="95" lengthAdjust="spacingAndGlyphs">Governance &amp; Standards</textPath></text>
<path id="sp7" d="M748.42 388.54 A258.6 258.6 0 0 1 768.10 487.50" fill="none"/>
<text font-size="10.6" fill="#707070" stroke="#fff" stroke-width="3.8" stroke-linejoin="round" paint-order="stroke" text-anchor="middle" textLength="62.4" lengthAdjust="spacingAndGlyphs"><textPath href="#sp7" startOffset="50%" textLength="62.4" lengthAdjust="spacingAndGlyphs">Future Enablers</textPath></text>
<line x1="262" y1="502.5" x2="262" y2="509" stroke="#d4d4d4" stroke-width="0.8"/>
<text x="262" y="520.2" font-size="7.6" fill="#878787" text-anchor="middle">2028</text>
<line x1="324" y1="502.5" x2="324" y2="509" stroke="#d4d4d4" stroke-width="0.8"/>
<text x="324" y="520.2" font-size="7.6" fill="#878787" text-anchor="middle">2027</text>
<line x1="386" y1="502.5" x2="386" y2="509" stroke="#d4d4d4" stroke-width="0.8"/>
<text x="386" y="520.2" font-size="7.6" fill="#878787" text-anchor="middle">2026</text>
<line x1="633" y1="502.5" x2="633" y2="509" stroke="#d4d4d4" stroke-width="0.8"/>
<text x="633" y="520.2" font-size="7.6" fill="#878787" text-anchor="middle">2026</text>
<line x1="695" y1="502.5" x2="695" y2="509" stroke="#d4d4d4" stroke-width="0.8"/>
<text x="695" y="520.2" font-size="7.6" fill="#878787" text-anchor="middle">2027</text>
<line x1="757" y1="502.5" x2="757" y2="509" stroke="#d4d4d4" stroke-width="0.8"/>
<text x="757" y="520.2" font-size="7.6" fill="#878787" text-anchor="middle">2028</text>
<line x1="509.5" y1="507" x2="509.5" y2="512" stroke="#d4d4d4" stroke-width="0.8"/>
<text x="509.5" y="520.2" font-size="7.6" fill="#878787" text-anchor="middle">2025</text>
<text x="509.5" y="500" font-size="7.2" fill="#b4b4b4" text-anchor="middle" textLength="81" lengthAdjust="spacingAndGlyphs">Start of mainstream impact</text>
<path d="M497 518 H486 M489 515.5 L486 518 L489 520.5" fill="none" stroke="#d2d2d2" stroke-width="0.7"/>
<path d="M522 518 H533 M530 515.5 L533 518 L530 520.5" fill="none" stroke="#d2d2d2" stroke-width="0.7"/>
</g>
</svg></body></html>
